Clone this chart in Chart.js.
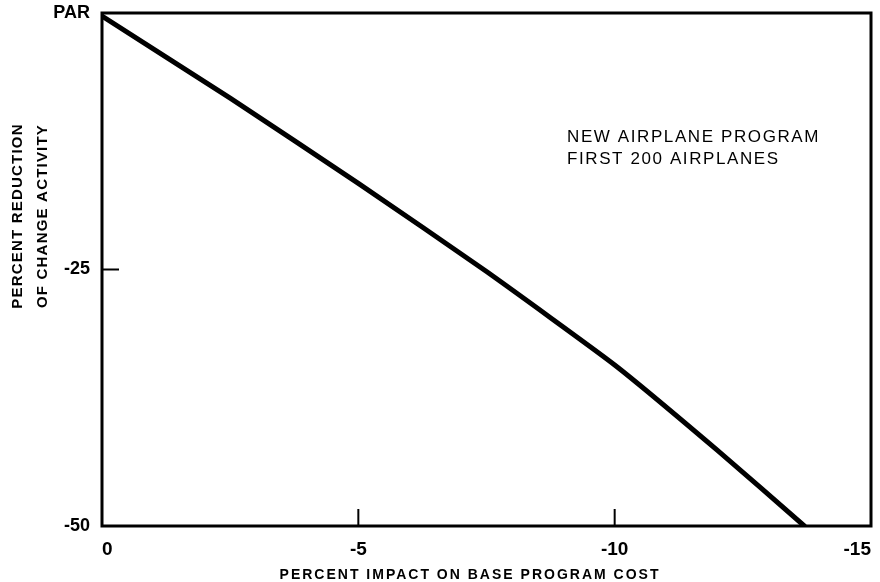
<!DOCTYPE html>
<html>
<head>
<meta charset="utf-8">
<script src="https://cdn.jsdelivr.net/npm/chart.js@4.4.1/dist/chart.umd.min.js"></script>
<style>
  html, body { margin: 0; padding: 0; background: #fff; }
  #wrap { width: 880px; height: 582px; }
</style>
</head>
<body>
<div id="wrap"><canvas id="c" width="880" height="582"></canvas></div>
<script>
// Data
const costImpact = [0, -2.5, -5, -7.5, -10, -12, -13.7];              // percent impact on base program cost
const changeReduction = [-0.3, -8.3, -16.6, -25.2, -34.3, -42.6, -50]; // percent reduction of change activity
const xTicks = [0, -5, -10, -15];
const yTicks = [0, -25, -50];
const yTickLabels = ['PAR', '-25', '-50'];
const xTitle = 'PERCENT IMPACT ON BASE PROGRAM COST';
const yTitleLines = ['PERCENT REDUCTION', 'OF CHANGE ACTIVITY'];
const noteLines = ['NEW AIRPLANE PROGRAM', 'FIRST 200 AIRPLANES'];

const points = costImpact.map((x, i) => ({ x: x, y: changeReduction[i] }));
const FONT = '"Liberation Sans", Arial, sans-serif';

const decor = {
  id: 'decor',
  afterDraw(chart) {
    const ctx = chart.ctx;
    const a = chart.chartArea;
    const xs = chart.scales.x, ys = chart.scales.y;
    ctx.save();
    ctx.strokeStyle = '#000';
    ctx.lineWidth = 2;
    // inward tick marks
    xTicks.forEach(v => {
      const px = xs.getPixelForValue(v);
      ctx.beginPath(); ctx.moveTo(px, a.bottom); ctx.lineTo(px, a.bottom - 17); ctx.stroke();
    });
    yTicks.forEach(v => {
      const py = ys.getPixelForValue(v);
      ctx.beginPath(); ctx.moveTo(a.left, py); ctx.lineTo(a.left + 17, py); ctx.stroke();
    });
    // frame
    ctx.lineWidth = 3;
    ctx.strokeRect(a.left, a.top, a.right - a.left, a.bottom - a.top);
    // titles
    ctx.fillStyle = '#000';
    ctx.textAlign = 'center';
    ctx.textBaseline = 'middle';
    ctx.font = 'bold 14px ' + FONT;
    if ('letterSpacing' in ctx) ctx.letterSpacing = '2px';
    ctx.fillText(xTitle, 470, 575);
    ctx.font = 'bold 15px ' + FONT;
    if ('letterSpacing' in ctx) ctx.letterSpacing = '1.2px';
    ctx.save();
    ctx.translate(18, 216);
    ctx.rotate(-Math.PI / 2);
    ctx.fillText(yTitleLines[0], 0, 0);
    ctx.fillText(yTitleLines[1], 0, 25);
    ctx.restore();
    // note
    ctx.font = '17px ' + FONT;
    ctx.textAlign = 'left';
    if ('letterSpacing' in ctx) ctx.letterSpacing = '1.6px';
    ctx.fillText(noteLines[0], 567, 137);
    ctx.fillText(noteLines[1], 567, 159);
    ctx.restore();
  }
};

new Chart(document.getElementById('c'), {
  type: 'scatter',
  data: {
    datasets: [{
      data: points,
      showLine: true,
      borderColor: '#000',
      borderWidth: 5,
      pointRadius: 0,
      tension: 0.15,
      borderCapStyle: 'round'
    }]
  },
  options: {
    responsive: false,
    animation: false,
    events: [],
    layout: { padding: { top: 13, right: 9, left: 0, bottom: 0 } },
    plugins: { legend: { display: false }, tooltip: { enabled: false } },
    scales: {
      x: {
        type: 'linear', min: -15, max: 0, reverse: true,
        afterBuildTicks: s => { s.ticks = xTicks.slice().sort((p, q) => p - q).map(v => ({ value: v })); },
        afterFit: s => { s.height = 56; s.paddingLeft = 0; s.paddingRight = 0; },
        grid: { display: false, drawTicks: false },
        border: { display: false },
        ticks: {
          color: '#000', padding: 12, align: 'inner',
          font: { family: FONT, size: 19, weight: 'bold' },
          callback: v => (v === 0 ? '0' : String(v)),
          maxRotation: 0
        }
      },
      y: {
        type: 'linear', min: -50, max: 0,
        afterBuildTicks: s => { s.ticks = yTicks.map(v => ({ value: v })); },
        afterFit: s => { s.width = 102; s.paddingTop = 0; s.paddingBottom = 0; },
        grid: { display: false, drawTicks: false },
        border: { display: false },
        ticks: {
          color: '#000', padding: 12,
          font: { family: FONT, size: 18, weight: 'bold' },
          callback: v => yTickLabels[yTicks.indexOf(v)]
        }
      }
    }
  },
  plugins: [decor]
});
</script>
</body>
</html>
